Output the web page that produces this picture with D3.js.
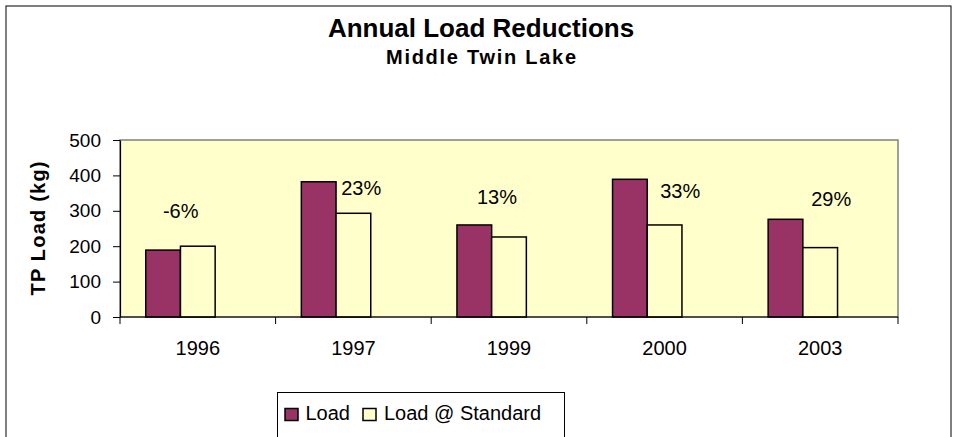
<!DOCTYPE html>
<html>
<head>
<meta charset="utf-8">
<script src="https://cdn.jsdelivr.net/npm/d3@7"></script>
<style>
  html, body { margin: 0; padding: 0; background: #fff; }
  svg { display: block; font-family: "Liberation Sans", Arial, sans-serif; }
</style>
</head>
<body>
<svg id="chart" width="953" height="437"></svg>
<script>
// ---- data ----
const years = ["1996", "1997", "1999", "2000", "2003"];
const load = [189, 382, 260, 389, 276];            // TP load, kg
const loadAtStandard = [200, 293, 226, 260, 196];  // TP load at standard, kg
const yTicks = [0, 100, 200, 300, 400, 500];
const seriesNames = ["Load", "Load @ Standard"];
const titleText = "Annual Load Reductions";
const subtitleText = "Middle Twin Lake";
const yAxisTitle = "TP Load (kg)";

// ---- layout ----
const plot = { left: 120, right: 898, top: 140, bottom: 317 };
const colors = { load: "#993366", standard: "#FFFFCC", plotBg: "#FFFFCC" };
// where each reduction label sits: fraction across the year's band, height in kg
const reductionPlacement = [[0.39, 300], [0.55, 364], [0.423, 339], [0.60, 357], [0.571, 334]];

const svg = d3.select("#chart");

// outer chart frame
svg.append("rect")
  .attr("x", 6).attr("y", 6).attr("width", 945).attr("height", 445)
  .attr("fill", "#fff").attr("stroke", "#000").attr("stroke-width", 1);

// scales
const x = d3.scaleBand().domain(years).range([plot.left, plot.right]);
const sub = d3.scaleBand().domain(["load", "standard", "spare"])
  .range([0, x.bandwidth()]).paddingInner(0).paddingOuter(0.742);
const y = d3.scaleLinear().domain([0, 500]).range([plot.bottom, plot.top]);

// plot background
svg.append("rect")
  .attr("x", plot.left).attr("y", plot.top)
  .attr("width", plot.right - plot.left).attr("height", plot.bottom - plot.top)
  .attr("fill", colors.plotBg).attr("stroke", "#808080").attr("stroke-width", 1.5);

// titles
svg.append("text").attr("x", 481).attr("y", 37).attr("text-anchor", "middle")
  .attr("font-size", 26).attr("font-weight", "bold")
  .text(titleText);
svg.append("text").attr("x", 481).attr("y", 63.5).attr("text-anchor", "middle")
  .attr("font-size", 20).attr("font-weight", "bold")
  .attr("textLength", 190).attr("lengthAdjust", "spacing")
  .text(subtitleText);

// y axis title
svg.append("text")
  .attr("transform", `translate(45,${(plot.top + plot.bottom) / 2}) rotate(-90)`)
  .attr("text-anchor", "middle")
  .attr("font-size", 20).attr("font-weight", "bold")
  .attr("textLength", 134).attr("lengthAdjust", "spacing")
  .text(yAxisTitle);

// bars
const rows = years.map((yr, i) => ({ year: yr, load: load[i], standard: loadAtStandard[i] }));
const groups = svg.append("g").selectAll("g").data(rows).join("g")
  .attr("transform", d => `translate(${x(d.year)},0)`);

groups.append("rect")
  .attr("x", sub("load")).attr("width", sub.bandwidth())
  .attr("y", d => y(d.load)).attr("height", d => y(0) - y(d.load))
  .attr("fill", colors.load).attr("stroke", "#000").attr("stroke-width", 1.5);
groups.append("rect")
  .attr("x", sub("standard")).attr("width", sub.bandwidth())
  .attr("y", d => y(d.standard)).attr("height", d => y(0) - y(d.standard))
  .attr("fill", colors.standard).attr("stroke", "#000").attr("stroke-width", 1.5);

// reduction labels, computed from the two series
groups.append("text")
  .attr("x", (d, i) => reductionPlacement[i][0] * x.bandwidth())
  .attr("y", (d, i) => y(reductionPlacement[i][1]))
  .attr("dy", "0.36em")
  .attr("text-anchor", "middle")
  .attr("font-size", 20)
  .text(d => Math.round((d.load - d.standard) / d.load * 100) + "%");

// y axis
const yAxis = svg.append("g").attr("transform", `translate(${plot.left},0)`)
  .call(d3.axisLeft(y).tickValues(yTicks).tickSize(7).tickSizeOuter(0).tickPadding(12));
yAxis.select(".domain").attr("stroke", "#000").attr("stroke-width", 1.2);
yAxis.selectAll(".tick line").attr("stroke", "#000");
yAxis.selectAll(".tick text").attr("font-size", 19).attr("fill", "#000")
  .attr("font-family", "Liberation Sans, Arial, sans-serif");

// x axis: boundaries between years get ticks, labels centred in each band
const xAxis = svg.append("g");
xAxis.append("line")
  .attr("x1", plot.left).attr("x2", plot.right)
  .attr("y1", y(0)).attr("y2", y(0))
  .attr("stroke", "#000").attr("stroke-width", 1.2);
const boundaries = years.map(yr => x(yr)).concat([x(years[years.length - 1]) + x.bandwidth()]);
xAxis.selectAll("line.tick").data(boundaries).join("line").attr("class", "tick")
  .attr("x1", d => d).attr("x2", d => d)
  .attr("y1", y(0)).attr("y2", y(0) + 7)
  .attr("stroke", "#000");
xAxis.selectAll("text").data(years).join("text")
  .attr("x", d => x(d) + x.bandwidth() / 2).attr("y", 354.5)
  .attr("text-anchor", "middle").attr("font-size", 20)
  .text(d => d);

// legend
const legend = svg.append("g");
legend.append("rect")
  .attr("x", 277.5).attr("y", 392.5).attr("width", 287).attr("height", 60)
  .attr("fill", "#fff").attr("stroke", "#000").attr("stroke-width", 1);
const legendItems = [
  { name: seriesNames[0], fill: colors.load, sx: 285, tx: 305.5 },
  { name: seriesNames[1], fill: colors.standard, sx: 363, tx: 384 }
];
legend.selectAll("rect.sw").data(legendItems).join("rect").attr("class", "sw")
  .attr("x", d => d.sx).attr("y", 408.5).attr("width", 13).attr("height", 12)
  .attr("fill", d => d.fill).attr("stroke", "#000").attr("stroke-width", 1.5);
legend.selectAll("text").data(legendItems).join("text")
  .attr("x", d => d.tx).attr("y", 419.5).attr("font-size", 20)
  .text(d => d.name);
</script>
</body>
</html>
